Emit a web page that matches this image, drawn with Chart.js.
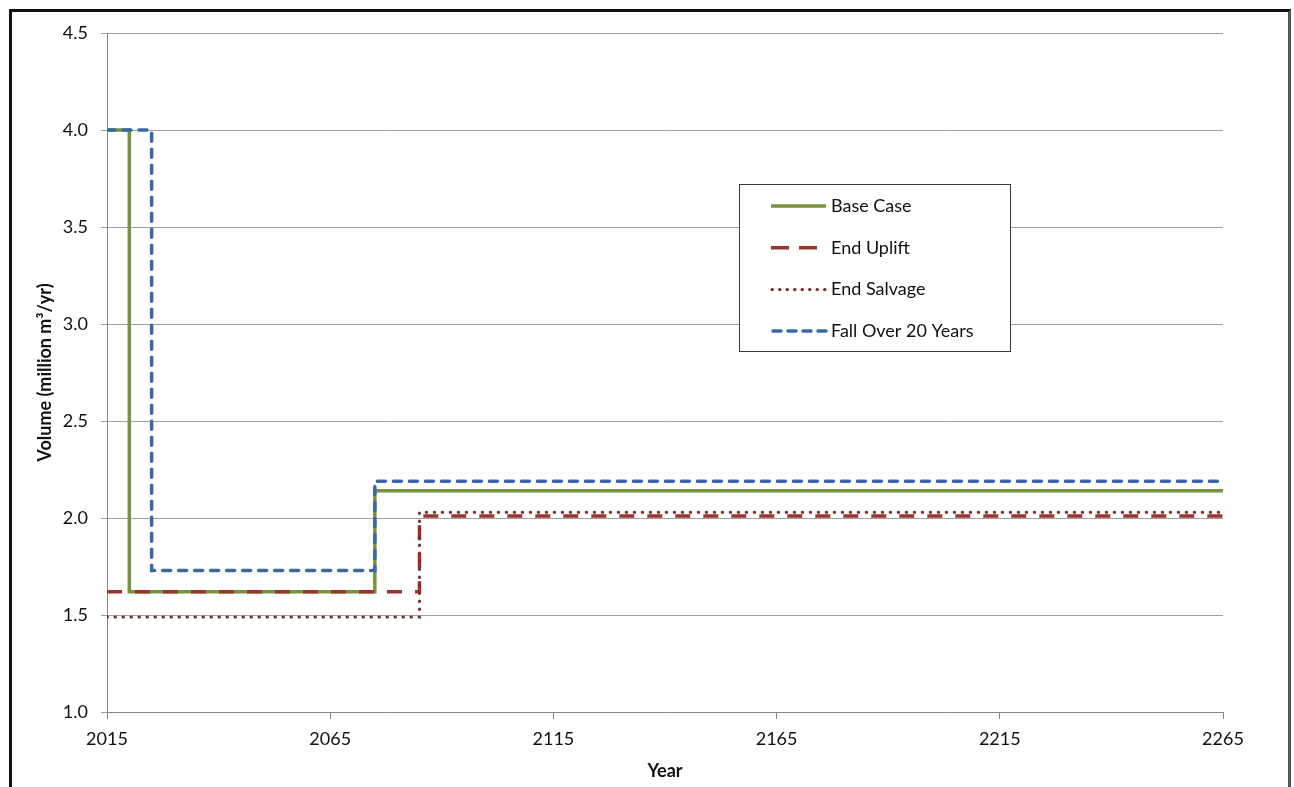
<!DOCTYPE html>
<html>
<head>
<meta charset="utf-8">
<script src="https://cdn.jsdelivr.net/npm/chart.js@4.4.0/dist/chart.umd.min.js"></script>
<style>
  html, body { margin: 0; padding: 0; background: #fff; }
  #wrap { position: relative; width: 1294px; height: 787px; overflow: hidden; }
  #frame { position: absolute; left: 9px; top: 9px; width: 1276px; height: 800px;
           border: 3px solid #111; border-right-color: #555; pointer-events: none; }
</style>
</head>
<body>
<div id="wrap">
  <canvas id="volChart"></canvas>
  <div id="frame"></div>
</div>
<script>
// step series: year where each level starts, and the level (million m3/yr)
const baseYears = [2015, 2020, 2075, 2265];
const baseVals = [4.0, 1.62, 2.14, 2.14];
const upliftYears = [2015, 2085, 2265];
const upliftVals = [1.62, 2.01, 2.01];
const salvageYears = [2015, 2085, 2265];
const salvageVals = [1.49, 2.03, 2.03];
const fallYears = [2015, 2025, 2075, 2265];
const fallVals = [4.0, 1.73, 2.19, 2.19];

const xTicks = [2015, 2065, 2115, 2165, 2215, 2265];
const yTicks = [1.0, 1.5, 2.0, 2.5, 3.0, 3.5, 4.0, 4.5];

const FONT = "Lato, 'Open Sans', sans-serif";

function pts(xs, ys) {
  return xs.map((x, i) => ({ x, y: ys[i] }));
}

// legend drawn as a boxed key inside the plot, like the original
const boxLegend = {
  id: 'boxLegend',
  afterDatasetsDraw(chart) {
    const ctx = chart.ctx;
    const bx = 739.5, by = 184.5, bw = 271, bh = 167;
    ctx.save();
    ctx.fillStyle = '#fff';
    ctx.fillRect(bx, by, bw, bh);
    ctx.strokeStyle = '#3a3a3a';
    ctx.lineWidth = 1;
    ctx.strokeRect(bx, by, bw, bh);
    chart.data.datasets.forEach((ds, i) => {
      const y = 206 + i * 41.7;
      ctx.beginPath();
      ctx.strokeStyle = ds.borderColor;
      ctx.lineWidth = ds.borderWidth;
      ctx.lineCap = ds.borderCapStyle || 'butt';
      ctx.setLineDash(ds.legendDash || ds.borderDash || []);
      ctx.moveTo(ds.legendStart || 771, y);
      ctx.lineTo(826, y);
      ctx.stroke();
      ctx.setLineDash([]);
      ctx.fillStyle = '#111';
      ctx.font = "18px " + FONT;
      ctx.textBaseline = 'middle';
      ctx.textAlign = 'left';
      ctx.fillText(ds.label, 831, y);
    });
    ctx.restore();
  }
};

const ctx = document.getElementById('volChart').getContext('2d');
new Chart(ctx, {
  type: 'line',
  data: {
    datasets: [
      {
        label: 'Base Case',
        data: pts(baseYears, baseVals),
        borderColor: '#77933C',
        borderWidth: 3.5,
        stepped: 'before',
        order: 4
      },
      {
        label: 'End Uplift',
        data: pts(upliftYears, upliftVals),
        borderColor: '#9A3431',
        borderWidth: 3.5,
        borderDash: [15, 13],
        legendDash: [18, 10],
        stepped: 'before',
        order: 3
      },
      {
        label: 'End Salvage',
        data: pts(salvageYears, salvageVals),
        borderColor: '#7E2B29',
        borderWidth: 3,
        borderDash: [0.5, 7.5],
        borderCapStyle: 'round',
        legendDash: [0.5, 7],
        legendStart: 772,
        stepped: 'before',
        order: 2
      },
      {
        label: 'Fall Over 20 Years',
        data: pts(fallYears, fallVals),
        borderColor: '#3A69A6',
        borderWidth: 3.5,
        borderDash: [8, 8],
        borderCapStyle: 'round',
        legendDash: [8, 7],
        legendStart: 773,
        stepped: 'before',
        order: 1
      }
    ]
  },
  options: {
    responsive: true,
    maintainAspectRatio: false,
    animation: false,
    layout: { padding: { left: 0, right: 71, top: 33, bottom: 0 } },
    elements: { point: { radius: 0 }, line: { tension: 0 } },
    plugins: { legend: { display: false }, tooltip: { enabled: false } },
    scales: {
      x: {
        type: 'linear',
        min: 2015,
        max: 2265,
        afterBuildTicks: s => { s.ticks = xTicks.map(v => ({ value: v })); },
        afterFit: s => { s.height = 75; },
        ticks: { color: '#111', font: { family: FONT, size: 18 }, padding: 9,
                 maxRotation: 0, callback: v => String(v) },
        grid: { drawOnChartArea: false, drawTicks: true, tickLength: 7, color: '#868686' },
        border: { color: '#868686', width: 1 },
        title: { display: true, text: 'Year', color: '#111',
                 font: { family: FONT, size: 18, weight: 'bold' }, padding: { top: 0, bottom: 5 } }
      },
      y: {
        min: 1.0,
        max: 4.5,
        afterBuildTicks: s => { s.ticks = yTicks.map(v => ({ value: v })); },
        afterFit: s => { s.width = 107; },
        ticks: { color: '#111', font: { family: FONT, size: 18 }, padding: 13,
                 callback: v => v.toFixed(1) },
        grid: { color: '#A0A0A0', tickLength: 6, lineWidth: 1 },
        border: { color: '#868686', width: 1 },
        title: { display: true, text: 'Volume (million m³/yr)', color: '#111',
                 font: { family: FONT, size: 18, weight: 'bold' }, padding: { top: 34, bottom: 0 } }
      }
    }
  },
  plugins: [boxLegend]
});
</script>
</body>
</html>
